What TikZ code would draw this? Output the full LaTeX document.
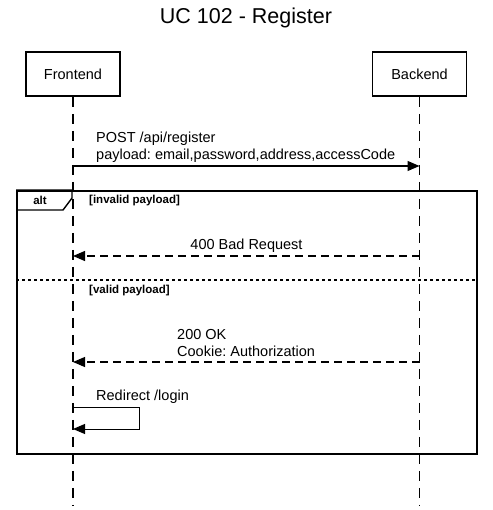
\documentclass[tikz,border=0pt]{standalone}
\usepackage{fontspec}
\setmainfont{Liberation Sans}
\usetikzlibrary{arrows.meta}
\frenchspacing
\begin{document}
\begin{tikzpicture}[x=1pt,y=-1pt,
  actor/.style={draw, line width=1.6pt, minimum width=94pt, minimum height=44pt, inner sep=0pt, font=\fontsize{14.5}{17}\selectfont},
  lifeline/.style={line width=1.3pt, dash pattern=on 10pt off 7pt},
  msg/.style={line width=1.1pt, -{Triangle[length=12pt,width=10pt]}},
  reply/.style={msg, dash pattern=on 8pt off 5pt},
  lbl/.style={inner sep=0pt, font=\fontsize{14.5}{17}\selectfont, align=left},
  guard/.style={inner sep=0pt, font=\bfseries\fontsize{11.5}{13}\selectfont},
  framebox/.style={draw, line width=1.6pt, minimum width=460pt, minimum height=263pt, inner sep=0pt},
  divider/.style={line width=1.6pt, dash pattern=on 3pt off 3pt}
]
\useasboundingbox (0,0) rectangle (492,510);
\node[font=\fontsize{21.5}{25}\selectfont] (title) at (246,18) {UC 102 - Register};

\node[actor] (fe) at (73,74) {Frontend};
\node[actor] (be) at (419.5,74) {Backend};
\coordinate (feEnd) at (73,505);
\coordinate (beEnd) at (419.5,505);
\draw[lifeline] (fe.south) -- (feEnd);
\draw[lifeline] (be.south) -- (beEnd);

% alt frame
\node[framebox, anchor=north west] (alt) at (16,190) {};
\draw[line width=1.4pt] (alt.north west) -- (72,190) -- (72,198) -- (63,210) -- (16,210);
\node[guard, anchor=base] (altlbl) at (40,205) {alt};
\coordinate (divL) at (16,280);
\coordinate (divR) at (476,280);
\draw[divider] (divL) -- (divR);
\node[guard, anchor=base west] (g1) at (89,204) {[invalid payload]};
\node[guard, anchor=base west] (g2) at (89,293) {[valid payload]};

% messages
\coordinate (f1) at (73,166);
\coordinate (b1) at (419.5,166);
\draw[msg] (f1) -- (b1);
\node[lbl, anchor=base west] (m1) at (96,159.5) {POST /api/register\\payload: email,password,address,accessCode};

\coordinate (f2) at (73,256);
\coordinate (b2) at (419.5,256);
\draw[reply] (b2) -- (f2);
\node[lbl, anchor=base] (m2) at (246.5,249) {400 Bad Request};

\coordinate (f3) at (73,362);
\coordinate (b3) at (419.5,362);
\draw[reply] (b3) -- (f3);
\node[lbl, anchor=base west] (m3) at (177,356) {200 OK\\Cookie: Authorization};

\coordinate (f4) at (73,407);
\coordinate (f5) at (73,429);
\draw[line width=1pt, -{Triangle[length=12pt,width=10pt]}] (f4) -- (139,407) -- (139,429) -- (f5);
\node[lbl, anchor=base west] (m4) at (96,400.5) {Redirect /login};
\end{tikzpicture}
\end{document}
